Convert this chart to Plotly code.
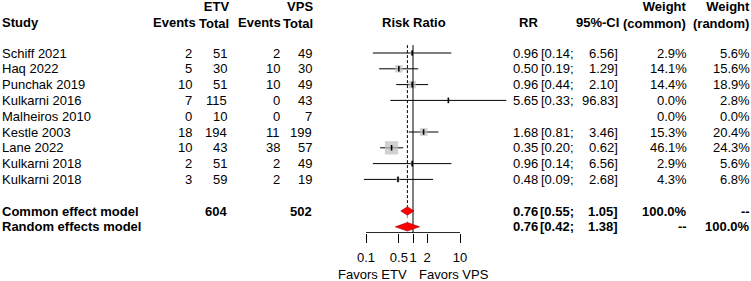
import math
import plotly.graph_objects as go

# ---------------- data ----------------
studies = ["Schiff 2021", "Haq 2022", "Punchak 2019", "Kulkarni 2016", "Malheiros 2010",
           "Kestle 2003", "Lane 2022", "Kulkarni 2018", "Kulkarni 2018"]
etv_events = [2, 5, 10, 7, 0, 18, 10, 2, 3]
etv_total = [51, 30, 51, 115, 10, 194, 43, 51, 59]
vps_events = [2, 10, 10, 0, 0, 11, 38, 2, 2]
vps_total = [49, 30, 49, 43, 7, 199, 57, 49, 19]
rr = [0.96, 0.50, 0.96, 5.65, None, 1.68, 0.35, 0.96, 0.48]
ci_lo = [0.14, 0.19, 0.44, 0.33, None, 0.81, 0.20, 0.14, 0.09]
ci_hi = [6.56, 1.29, 2.10, 96.83, None, 3.46, 0.62, 6.56, 2.68]
w_common = [2.9, 14.1, 14.4, 0.0, 0.0, 15.3, 46.1, 2.9, 4.3]
w_random = [5.6, 15.6, 18.9, 2.8, 0.0, 20.4, 24.3, 5.6, 6.8]

pooled_labels = ["Common effect model", "Random effects model"]
pooled_rr = [0.76, 0.76]
pooled_lo = [0.55, 0.42]
pooled_hi = [1.05, 1.38]
pooled_wc = ["100.0%", "--"]
pooled_wr = ["--", "100.0%"]
total_etv = 604
total_vps = 502
heterogeneity = "Heterogeneity: <i>I</i><sup>2</sup> = 53%, τ<sup>2</sup> = 0.1762, <i>p</i> = 0.04"

axis_ticks = [0.1, 0.5, 1, 2, 10]
axis_ticktext = ["0.1", "0.5", "1", "2", "10"]

# ---------------- layout constants ----------------
W, H = 751, 281
FONT = "Liberation Sans, Arial, sans-serif"
FS = 13
ROW0_PX, ROW_STEP = 53, 15.8          # pixel y of first study row, row spacing
AXIS_PX = 233                          # pixel y of forest x-axis line
X1_PX, DEC_PX = 413, 47                # pixel of RR=1, pixels per decade
MAX_SQ = 13.3                          # pixel side of biggest square

n = len(studies)
rows = list(range(n))
row_common, row_random, row_het = n + 1, n + 2, n + 3
row_h2 = (22.5 - ROW0_PX) / ROW_STEP   # second header line
row_h12 = (15 - ROW0_PX) / ROW_STEP    # centre of two-line headers

y_top = -ROW0_PX / ROW_STEP
y_bot = (AXIS_PX - ROW0_PX) / ROW_STEP
x_lo = -X1_PX / DEC_PX
x_hi = (W - X1_PX) / DEC_PX

fig = go.Figure()

# CI lines
lx, ly = [], []
for i in rows:
    if rr[i] is not None:
        lx += [ci_lo[i], ci_hi[i], None]
        ly += [i, i, None]
fig.add_trace(go.Scatter(x=lx, y=ly, mode="lines", line=dict(color="black", width=1),
                         hoverinfo="skip", showlegend=False))

# weight squares
maxw = max(w_common)
sel = [i for i in rows if rr[i] is not None and w_common[i] > 0]
fig.add_trace(go.Scatter(x=[rr[i] for i in sel], y=sel, mode="markers",
                         marker=dict(symbol="square", size=[MAX_SQ * math.sqrt(w_common[i] / maxw) for i in sel],
                                     color="#BEBEBE", line=dict(width=0)),
                         hoverinfo="skip", showlegend=False))
# point estimates
pt = [i for i in rows if rr[i] is not None]
fig.add_trace(go.Scatter(x=[rr[i] for i in pt], y=pt, mode="markers",
                         marker=dict(symbol="line-ns", size=4, line=dict(color="black", width=1.6)),
                         hoverinfo="skip", showlegend=False))

# reference lines
fig.add_trace(go.Scatter(x=[1, 1], y=[-0.5, y_bot], mode="lines",
                         line=dict(color="black", width=1), hoverinfo="skip", showlegend=False))
fig.add_trace(go.Scatter(x=[pooled_rr[0], pooled_rr[0]], y=[-0.5, row_common - 0.27], mode="lines",
                         line=dict(color="black", width=1, dash="3px,2px"), hoverinfo="skip", showlegend=False))
fig.add_trace(go.Scatter(x=[pooled_rr[1], pooled_rr[1]], y=[row_common + 0.27, row_random - 0.27], mode="lines",
                         line=dict(color="#999999", width=1, dash="dot"), hoverinfo="skip", showlegend=False))

# diamonds
for k, r in enumerate([row_common, row_random]):
    h = 0.27
    fig.add_trace(go.Scatter(
        x=[pooled_lo[k], pooled_rr[k], pooled_hi[k], pooled_rr[k], pooled_lo[k]],
        y=[r, r - h, r, r + h, r], mode="lines", fill="toself", fillcolor="#FF0000",
        line=dict(color="#990000", width=0.6), hoverinfo="skip", showlegend=False))

# axis line (only between first and last tick) drawn at the bottom of the y range
fig.add_trace(go.Scatter(x=[axis_ticks[0], axis_ticks[-1]], y=[y_bot - 0.02, y_bot - 0.02], mode="lines",
                         line=dict(color="black", width=1), hoverinfo="skip", showlegend=False))

# ---------------- text ----------------
ann = []


def txt(text, px, row, anchor="right", bold=False, size=FS, yref="y"):
    if bold:
        text = "<b>" + text.replace("<br>", "</b><br><b>") + "</b>"
    ann.append(dict(text=text, x=px / W, xref="paper", y=row, yref=yref, xanchor=anchor,
                    yanchor="middle", showarrow=False, borderpad=0, align=anchor if anchor != "center" else "center",
                    font=dict(family=FONT, size=size, color="black")))


def fmt(v):
    return "" if v is None else f"{v:.2f}"


# column right edges (px)
C_EE, C_ET, C_VE, C_VT = 193, 228, 281, 313
C_RR, C_LO, C_HI, C_WC, C_WR = 539, 575, 619, 688, 751

# headers (two-line ones combined so the lines stack)
txt("ETV<br>Total", C_ET + 2, row_h12, bold=True)
txt("VPS<br>Total", C_VT + 1, row_h12, bold=True)
txt("Weight<br>(common)", C_WC, row_h12, bold=True)
txt("Weight<br>(random)", C_WR, row_h12, bold=True)
txt("Study", 0.5, row_h2, anchor="left", bold=True)
txt("Events", C_EE + 4, row_h2, bold=True)
txt("Events", C_VE + 1, row_h2, bold=True)
txt("Risk Ratio", X1_PX + 1, row_h2, anchor="center", bold=True)
txt("RR", C_RR, row_h2, bold=True)
txt("95%-CI", C_HI + 1, row_h2, bold=True)

for i in rows:
    txt(studies[i], 0.5, i, anchor="left")
    txt(str(etv_events[i]), C_EE, i)
    txt(str(etv_total[i]), C_ET, i)
    txt(str(vps_events[i]), C_VE, i)
    txt(str(vps_total[i]), C_VT, i)
    if rr[i] is not None:
        txt(fmt(rr[i]), C_RR, i)
        txt("[" + fmt(ci_lo[i]) + ";", C_LO, i)
        txt(fmt(ci_hi[i]) + "]", C_HI, i)
    txt(f"{w_common[i]:.1f}%", C_WC, i)
    txt(f"{w_random[i]:.1f}%", C_WR, i)

for k, r in enumerate([row_common, row_random]):
    txt(pooled_labels[k], 0.5, r, anchor="left", bold=True)
    txt(fmt(pooled_rr[k]), C_RR, r, bold=True)
    txt("[" + fmt(pooled_lo[k]) + ";", C_LO, r, bold=True)
    txt(fmt(pooled_hi[k]) + "]", C_HI, r, bold=True)
    txt(pooled_wc[k], C_WC, r, bold=True)
    txt(pooled_wr[k], C_WR, r, bold=True)
txt(str(total_etv), C_ET, row_common, bold=True)
txt(str(total_vps), C_VT, row_common, bold=True)
txt(heterogeneity, 0.5, row_het, anchor="left", size=12)

# favours labels (below the axis, paper coordinates)
FAV_Y = 1 - 274 / H
txt("Favors ETV", 408, FAV_Y, anchor="right", yref="paper")
txt("Favors VPS", 418, FAV_Y, anchor="left", yref="paper")

fig.update_layout(
    width=W, height=H, margin=dict(l=0, r=0, t=0, b=0),
    paper_bgcolor="white", plot_bgcolor="white",
    annotations=ann, showlegend=False,
    font=dict(family=FONT, size=FS, color="black"),
    xaxis=dict(type="log", range=[x_lo, x_hi], domain=[0, 1],
               tickvals=axis_ticks, ticktext=axis_ticktext, tickangle=0,
               ticks="outside", ticklen=9, tickwidth=1, tickcolor="black",
               showline=False, showgrid=False, zeroline=False,
               tickfont=dict(family=FONT, size=FS, color="black"), ticklabelstandoff=3,
               fixedrange=True),
    yaxis=dict(range=[y_bot, y_top], domain=[1 - AXIS_PX / H, 1],
               showticklabels=False, showgrid=False, zeroline=False, showline=False,
               ticks="", fixedrange=True),
)

fig.write_html("out.html", config={"displayModeBar": False},
               post_script="document.body.style.margin='0';document.body.style.overflow='hidden';")
